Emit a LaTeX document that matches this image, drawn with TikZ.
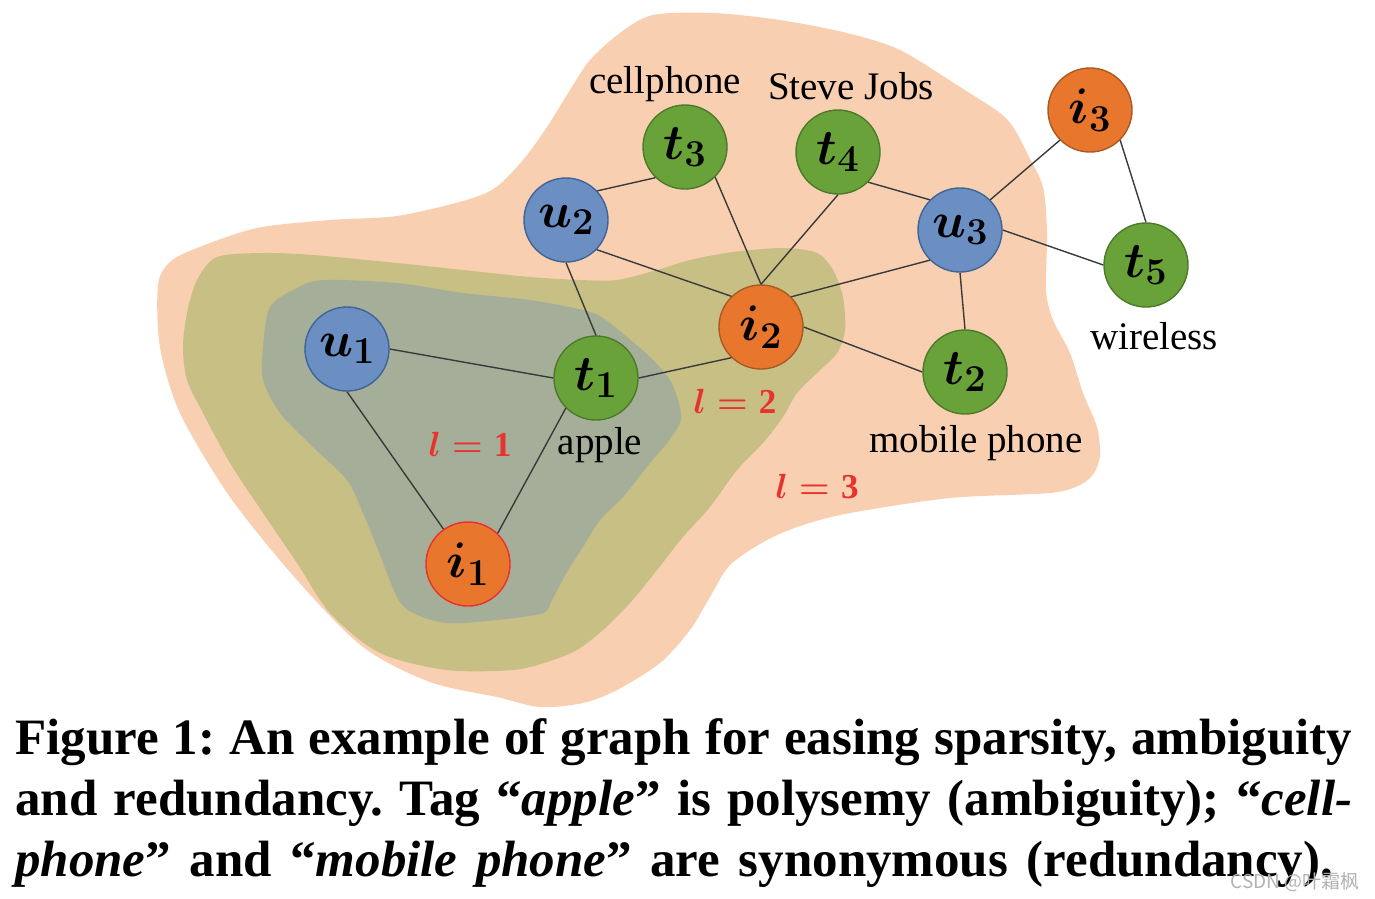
\RequirePackage{fix-cm}
\documentclass[tikz,border=0pt]{standalone}
\usepackage{amsmath}
\usepackage{bm}
\usepackage[no-math]{fontspec}
\setmainfont{Liberation Serif}
\newfontfamily\cjkfnt{Noto Sans CJK SC}
\DeclareMathSizes{50}{50}{38}{30}
\DeclareMathSizes{35}{35}{24}{18}
\frenchspacing
\definecolor{peach}{HTML}{F9CFB1}
\definecolor{olive}{HTML}{C8BF85}
\definecolor{sage}{HTML}{A5AE98}
\definecolor{ublue}{HTML}{6B8FC2}
\definecolor{ubluedark}{HTML}{3F6496}
\definecolor{tgreen}{HTML}{6AA23A}
\definecolor{tgreendark}{HTML}{4D7A2A}
\definecolor{iorange}{HTML}{E8762D}
\definecolor{iorangedark}{HTML}{A95A22}
\definecolor{lred}{HTML}{E8322D}
\definecolor{edgec}{HTML}{3A3A3A}
\newcommand{\vxfnt}{\fontsize{50}{60}\selectfont}
\newcommand{\tagfnt}{\fontsize{39}{46}\selectfont}
\newcommand{\lvlfnt}{\fontsize{35}{40}\selectfont}
\newcommand{\capfnt}{\fontsize{51}{61}\selectfont\bfseries}
\newcommand{\vx}[2]{{\boldmath$#1_{#2}$}}
\newcommand{\lv}[1]{{\boldmath$l=\hbox{\bfseries #1}$}}
\begin{document}
\begin{tikzpicture}[x=1pt,y=-1pt,
  edge/.style={draw=edgec, line width=1.4pt},
  vnode/.style={circle, minimum size=84pt, inner sep=0pt, line width=1.4pt, font=\vxfnt},
  unode/.style={vnode, fill=ublue, draw=ubluedark},
  tnode/.style={vnode, fill=tgreen, draw=tgreendark},
  inode/.style={vnode, fill=iorange, draw=iorangedark},
  tagtxt/.style={font=\tagfnt, anchor=base, inner sep=0pt},
  lvl/.style={font=\lvlfnt, text=lred, anchor=base, inner sep=0pt},
  captxt/.style={font=\capfnt, anchor=base west, inner sep=0pt}]
\useasboundingbox[fill=white] (0,0) rectangle (1375,898);

% level 3 region
\fill[peach] plot[smooth cycle, tension=0.5] coordinates {
 (158,285) (170,262) (197,248) (257,228) (330,220) (397,216) (463,201) (495,188)
 (523,160) (547,127) (570,90) (590,60) (620,33) (653,15) (713,13) (780,20)
 (847,33) (900,50) (960,87) (1000,113) (1015,130) (1027,153) (1043,187)
 (1047,233) (1046,290) (1053,320) (1070,353) (1083,393) (1097,427) (1100,455)
 (1094,473) (1080,485) (1050,493) (950,498) (850,513) (803,525) (767,540)
 (730,565) (710,597) (690,630) (660,663) (617,690) (583,703) (540,707)
 (497,697) (430,682) (363,647) (297,580) (230,497) (180,413) (160,347)};
% level 2 region
\fill[olive] plot[smooth cycle, tension=0.5] coordinates {
 (217,257) (263,253) (313,255) (397,263) (463,270) (530,277) (580,280) (617,280)
 (657,270) (690,260) (733,252) (783,248) (817,253) (833,270) (843,297) (845,330)
 (837,353) (817,373) (797,393) (783,417) (763,443) (737,470) (710,507) (683,537)
 (657,570) (630,603) (603,630) (577,650) (547,662) (513,670) (447,670) (380,653)
 (330,613) (297,563) (263,513) (230,463) (203,413) (187,380) (183,347) (187,313)
 (197,280)};
% level 1 region
\fill[sage] plot[smooth cycle, tension=0.5] coordinates {
 (270,307) (297,288) (323,280) (397,283) (463,293) (530,300) (583,310) (603,318)
 (627,337) (650,357) (670,380) (680,407) (680,423) (667,443) (650,463) (623,497)
 (600,520) (583,547) (567,572) (552,600) (543,613) (497,620) (447,623) (413,613)
 (397,597) (377,547) (363,513) (347,480) (313,447) (280,413) (263,380) (263,347)};

% nodes
\node[unode] (u1) at (347,349) {\vx{u}{1}};
\node[tnode] (t1) at (596,378) {\vx{t}{1}};
\node[inode, draw=lred] (i1) at (468,564) {\vx{i}{1}};
\node[unode] (u2) at (566,220) {\vx{u}{2}};
\node[tnode] (t3) at (685,147) {\vx{t}{3}};
\node[tnode] (t4) at (838,152) {\vx{t}{4}};
\node[inode] (i2) at (761,327) {\vx{i}{2}};
\node[unode] (u3) at (960,230) {\vx{u}{3}};
\node[tnode] (t2) at (965,372) {\vx{t}{2}};
\node[inode] (i3) at (1090,110) {\vx{i}{3}};
\node[tnode] (t5) at (1146,265) {\vx{t}{5}};

% edges
\draw[edge] (u1.east) -- (t1.west);
\draw[edge] (u1.south) -- (i1);
\draw[edge] (t1.225) -- (i1.46);
\draw[edge] (u2.south) -- (t1.north);
\draw[edge] (t1.east) -- (i2.226);
\draw[edge] (u2.-44) -- (i2.134);
\draw[edge] (u2.43) -- (t3.226);
\draw[edge] (t3.-45) -- (i2.north);
\draw[edge] (t4.south) -- (i2.north);
\draw[edge] (t4.-45) -- (u3.135);
\draw[edge] (i2.45) -- (u3.225);
\draw[edge] (i2.east) -- (t2.west);
\draw[edge] (u3.south) -- (t2.north);
\draw[edge] (u3.45) -- (i3.225);
\draw[edge] (u3.east) -- (t5.west);
\draw[edge] (i3.-45) -- (t5.north);

% tag labels
\node[tagtxt] (lcell) at (665,93) {cellphone};
\node[tagtxt] (ljobs) at (851,99) {Steve Jobs};
\node[tagtxt] (lwire) at (1154,349) {wireless};
\node[tagtxt] (lmob) at (976,452) {mobile phone};
\node[tagtxt] (lapp) at (600,454) {apple};

% level labels
\node[lvl] (l1) at (470,456) {\lv{1}};
\node[lvl] (l2) at (735,413) {\lv{2}};
\node[lvl] (l3) at (817,498) {\lv{3}};

% caption
\node[captxt] (c1) at (15,754) {\makebox[1337pt][s]{Figure 1: An example of graph for easing sparsity, ambiguity}};
\node[captxt] (c2) at (15,815) {\makebox[1337pt][s]{and redundancy. Tag “\textit{apple}” is polysemy (ambiguity); “\textit{cell-}}};
\node[captxt] (c3) at (15,876) {\makebox[1318pt][s]{\textit{phone}” and “\textit{mobile phone}” are synonymous (redundancy).}};

% watermark
\node[anchor=base east, inner sep=0pt, text=black!30, font=\cjkfnt\fontsize{19}{22}\selectfont] (wm) at (1360,888) {CSDN @叶霜枫};
\end{tikzpicture}
\end{document}
